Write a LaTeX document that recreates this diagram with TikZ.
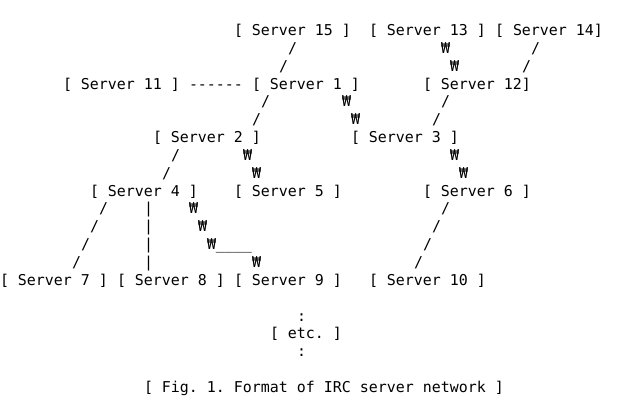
\documentclass[tikz,border=0pt]{standalone}
\usepackage{fontspec}
\setmonofont{DejaVu Sans Mono}

\tikzset{every picture/.style={line width=0.75pt}}
\tikzset{
  srv/.style={anchor=base west, inner sep=0pt, outer sep=0pt,
    font=\ttfamily\frenchspacing\fontsize{11.21pt}{13pt}\selectfont},
  lnk/.style={srv},
}

\begin{document}
\begin{tikzpicture}[x=0.75pt,y=0.75pt,yscale=-1,xscale=1]
%set diagram left start at 0, and has height of 406
\useasboundingbox (0,0) rectangle (618,406);
%Servers: top row
\node[srv] (s15) at (234,35.5) {[ Server 15 ]};
\node[srv] (s13) at (369,35.5) {[ Server 13 ]};
\node[srv] (s14) at (495,35.5) {[ Server 14]};
%Links: Server 15 - Server 1
\node[lnk] (l15a) at (288,53.4) {/};
\node[lnk] (l15b) at (279,71.2) {/};
%Links: Server 13 - Server 12
\node[lnk] (l13a) at (441,53.4) {₩};
\node[lnk] (l13b) at (450,71.2) {₩};
%Links: Server 14 - Server 12
\node[lnk] (l14a) at (531,53.4) {/};
\node[lnk] (l14b) at (522,71.2) {/};
%Servers: second row
\node[srv] (s11) at (63,89.1) {[ Server 11 ]};
\node[lnk] (l11) at (189,89.1) {------};
\node[srv] (s1) at (252,89.1) {[ Server 1 ]};
\node[srv] (s12) at (423,89.1) {[ Server 12]};
%Links: Server 1 - Server 2
\node[lnk] (l2a) at (261,106.9) {/};
\node[lnk] (l2b) at (252,124.8) {/};
%Links: Server 1 - Server 3
\node[lnk] (l3a) at (342,106.9) {₩};
\node[lnk] (l3b) at (351,124.8) {₩};
%Links: Server 12 - Server 3
\node[lnk] (l12a) at (441,106.9) {/};
\node[lnk] (l12b) at (432,124.8) {/};
%Servers: third row
\node[srv] (s2) at (153,142.6) {[ Server 2 ]};
\node[srv] (s3) at (351,142.6) {[ Server 3 ]};
%Links: Server 2 - Server 4
\node[lnk] (l4a) at (171,160.5) {/};
\node[lnk] (l4b) at (162,178.3) {/};
%Links: Server 2 - Server 5
\node[lnk] (l5a) at (243,160.5) {₩};
\node[lnk] (l5b) at (252,178.3) {₩};
%Links: Server 3 - Server 6
\node[lnk] (l6a) at (450,160.5) {₩};
\node[lnk] (l6b) at (459,178.3) {₩};
%Servers: fourth row
\node[srv] (s4) at (90,196.2) {[ Server 4 ]};
\node[srv] (s5) at (234,196.2) {[ Server 5 ]};
\node[srv] (s6) at (423,196.2) {[ Server 6 ]};
%Links: Server 4 - Server 7
\node[lnk] (l7a) at (99,214) {/};
\node[lnk] (l7b) at (90,231.9) {/};
\node[lnk] (l7c) at (81,249.7) {/};
\node[lnk] (l7d) at (72,267.6) {/};
%Links: Server 4 - Server 8
\node[lnk] (l8a) at (144,214) {|};
\node[lnk] (l8b) at (144,231.9) {|};
\node[lnk] (l8c) at (144,249.7) {|};
\node[lnk] (l8d) at (144,267.6) {|};
%Links: Server 4 - Server 9
\node[lnk] (l9a) at (189,214) {₩};
\node[lnk] (l9b) at (198,231.9) {₩};
\node[lnk] (l9c) at (207,249.7) {₩\_\_\_\_};
\node[lnk] (l9d) at (252,267.6) {₩};
%Links: Server 6 - Server 10
\node[lnk] (l10a) at (441,214) {/};
\node[lnk] (l10b) at (432,231.9) {/};
\node[lnk] (l10c) at (423,249.7) {/};
\node[lnk] (l10d) at (414,267.6) {/};
%Servers: bottom row
\node[srv] (s7) at (0,285.4) {[ Server 7 ]};
\node[srv] (s8) at (117,285.4) {[ Server 8 ]};
\node[srv] (s9) at (234,285.4) {[ Server 9 ]};
\node[srv] (s10) at (369,285.4) {[ Server 10 ]};
%More servers
\node[lnk] (le1) at (297,321.1) {:};
\node[srv] (etc) at (270,339) {[ etc. ]};
\node[lnk] (le2) at (297,356.8) {:};
%Caption
\node[srv] (cap) at (144,392.5) {[ Fig. 1. Format of IRC server network ]};
\end{tikzpicture}
\end{document}
